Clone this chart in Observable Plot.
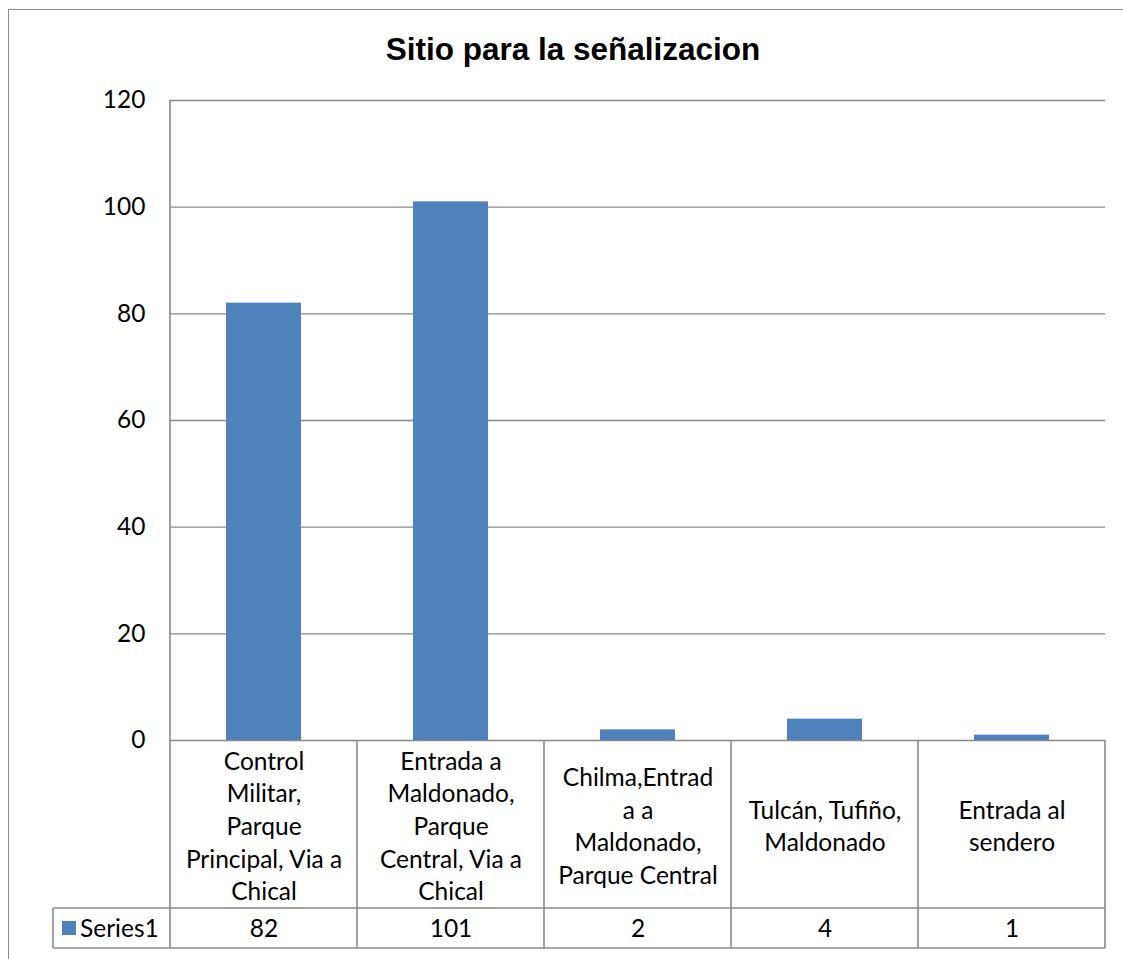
<!DOCTYPE html>
<html>
<head>
<meta charset="utf-8">
<script src="https://cdn.jsdelivr.net/npm/d3@7"></script>
<script src="https://cdn.jsdelivr.net/npm/@observablehq/plot@0.6"></script>
<style>
  html, body { margin: 0; padding: 0; background: #fff; overflow: hidden; }
  #wrap { position: relative; width: 1123px; height: 959px; }
  #border { position: absolute; left: 8px; top: 9px; width: 1300px; height: 1200px;
            border: 1.5px solid #8a8a8a; pointer-events: none; box-sizing: border-box; }
  #chart { position: absolute; left: 0; top: 0; }
</style>
</head>
<body>
<div id="wrap"><div id="chart"></div><div id="border"></div></div>
<script>
const title = "Sitio para la señalizacion";
const categories = [
  "Control\nMilitar,\nParque\nPrincipal, Via a\nChical",
  "Entrada a\nMaldonado,\nParque\nCentral, Via a\nChical",
  "Chilma,Entrad\na a\nMaldonado,\nParque Central",
  "Tulcán, Tufiño,\nMaldonado",
  "Entrada al\nsendero"
];
const values = [82, 101, 2, 4, 1];
const seriesName = "Series1";
const yTicks = [0, 20, 40, 60, 80, 100, 120];

const barColor = "#4F81BD";
const lineColor = "#898989";
const font = "Lato, 'Noto Sans', sans-serif";
const fs = 24.5;

const data = categories.map((c, i) => ({category: c, value: values[i]}));

const chart = Plot.plot({
  width: 1123,
  height: 959,
  marginLeft: 170,
  marginRight: 18,
  marginTop: 100,
  marginBottom: 219,
  style: {fontFamily: font, fontSize: fs + "px", color: "#000", background: "transparent", overflow: "visible"},
  x: {domain: categories, paddingInner: 0.6, paddingOuter: 0.3, axis: null},
  y: {domain: [0, 120], ticks: yTicks, axis: null},
  marks: [
    Plot.gridY(yTicks, {stroke: lineColor, strokeOpacity: 1, strokeWidth: 1.4}),
    Plot.barY(data, {x: "category", y: "value", fill: barColor}),
    Plot.axisY(yTicks, {tickSize: 0, tickPadding: 25, fontSize: fs, fill: "#000", label: null}),
    Plot.text([title], {frameAnchor: "top", dx: -65, dy: -51, fontSize: 31.5, fontWeight: "bold",
                        fontFamily: "'Liberation Sans', Arial, sans-serif", fill: "#000",
                        lineAnchor: "middle"}),
    Plot.text(data, {x: "category", text: "category", frameAnchor: "bottom", dy: 84,
                     lineAnchor: "middle", lineHeight: 1.33, fontSize: fs, fill: "#000"}),
    Plot.text(data, {x: "category", text: d => String(d.value), frameAnchor: "bottom", dy: 189,
                     lineAnchor: "middle", fontSize: fs, fill: "#000"})
  ]
});

document.getElementById("chart").appendChild(chart);

// Data table grid drawn from the library's scales
const xs = chart.scale("x");
const ys = chart.scale("y");
const step = xs.step, bw = xs.bandwidth;
const edges = categories.map(c => xs.apply(c) - (step - bw) / 2);
edges.push(edges[edges.length - 1] + step);
const y0 = ys.apply(0), yTop = ys.apply(120);
const rowTop = y0 + 168, rowBot = y0 + 208;
const headerLeft = edges[0] - 117;

const svg = d3.select(chart);
const g = svg.append("g").attr("stroke", lineColor).attr("stroke-width", 1.6).attr("fill", "none");
g.append("line").attr("x1", edges[0]).attr("x2", edges[0]).attr("y1", yTop).attr("y2", rowBot);
edges.slice(1).forEach(x => g.append("line").attr("x1", x).attr("x2", x).attr("y1", y0).attr("y2", rowBot));
g.append("line").attr("x1", headerLeft).attr("x2", edges[edges.length - 1]).attr("y1", rowTop).attr("y2", rowTop);
g.append("line").attr("x1", headerLeft).attr("x2", edges[edges.length - 1]).attr("y1", rowBot).attr("y2", rowBot);
g.append("line").attr("x1", headerLeft).attr("x2", headerLeft).attr("y1", rowTop).attr("y2", rowBot);

// legend key + series name
svg.append("rect").attr("x", headerLeft + 9).attr("y", (rowTop + rowBot) / 2 - 7)
  .attr("width", 14).attr("height", 14).attr("fill", barColor);
svg.append("text").attr("x", headerLeft + 27).attr("y", (rowTop + rowBot) / 2)
  .attr("dy", "0.35em").attr("text-anchor", "start").attr("font-family", font)
  .attr("font-size", fs).attr("fill", "#000").text(seriesName);
</script>
</body>
</html>
